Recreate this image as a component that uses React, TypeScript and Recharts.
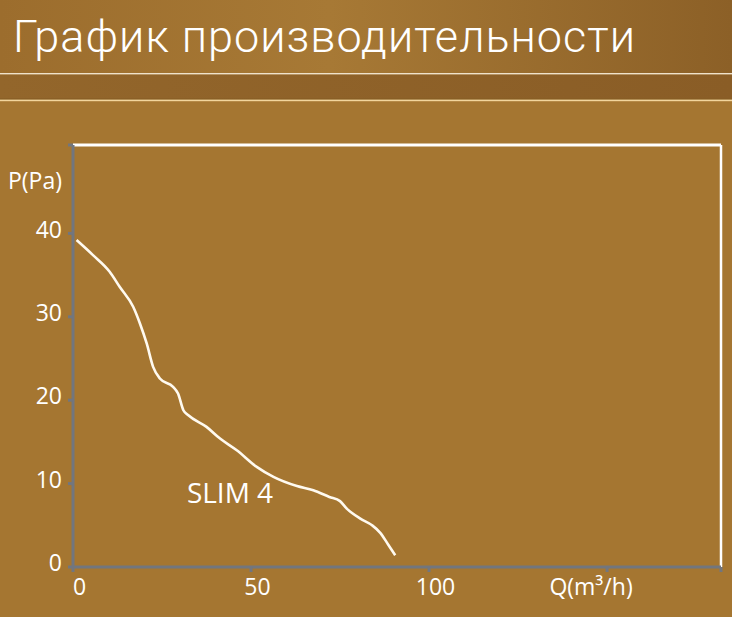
import { LineChart, Line, XAxis, YAxis, ReferenceLine, ReferenceDot } from "recharts";

// SLIM 4 performance curve
const flow = [1, 5.6, 10.3, 13.1, 16.9, 18.8, 20.7, 22.5, 24.4, 28.1, 29.5, 31, 32.4, 37.5, 41.3, 46, 51.6, 56.3, 62.9, 67.5, 72, 75, 76.9, 80.7, 84, 86.3, 88.5, 90.5];
const pressure = [39.2, 37.4, 35.4, 33.6, 31.2, 29.2, 26.8, 24, 22.6, 21.6, 20.8, 18.8, 18.2, 16.8, 15.4, 14, 12, 10.8, 9.7, 9.2, 8.4, 7.9, 7, 5.8, 5, 4.1, 2.7, 1.4];

const yTicks = [0, 10, 20, 30, 40, 45.8, 50.6];
const yTickLabels = ["0", "10", "20", "30", "40", "P(Pa)", ""];
const xTicks = [0, 50, 100, 150, 182];
const xTickLabels = ["0", "50", "100", "Q(m³/h)", ""];

const curveLabel = "SLIM 4";
const title = "График производительности";

const data = flow.map((q, i) => ({ q, p: pressure[i] }));

const AXIS_GRAY = "#72767e";
const FONT = "'Open Sans', 'Noto Sans', sans-serif";

// eslint-disable-next-line @typescript-eslint/no-explicit-any
function YTick({ x, y, payload }: any) {
  const label = yTickLabels[yTicks.indexOf(payload.value)] ?? "";
  const isName = label === "P(Pa)";
  return (
    <g>
      {!isName && (
        <line x1={x + 6} x2={x + 11} y1={y} y2={y} stroke={AXIS_GRAY} strokeWidth={3} />
      )}
      <text x={x} y={y - 4} dy="0.36em" textAnchor="end" fill="#fff" fontSize={23} fontFamily={FONT}>
        {label}
      </text>
    </g>
  );
}

// eslint-disable-next-line @typescript-eslint/no-explicit-any
function XTick({ x, y, payload }: any) {
  const label = xTickLabels[xTicks.indexOf(payload.value)] ?? "";
  const shift = label.startsWith("Q") ? -16 : 6.5;
  return (
    <g>
      <line x1={x} x2={x} y1={y - 11} y2={y - 6} stroke={AXIS_GRAY} strokeWidth={3} />
      <text x={x + shift} y={y} dy="0.72em" textAnchor="middle" fill="#fff" fontSize={23} fontFamily={FONT}>
        {label}
      </text>
    </g>
  );
}

export default function App() {
  return (
    <div style={{ position: "fixed", left: 0, top: 0, width: 732, height: 617, overflow: "hidden" }}>
      <svg width={732} height={617} style={{ position: "absolute", left: 0, top: 0 }}>
        <defs>
          <linearGradient id="topBand" x1="0" y1="0" x2="1" y2="0">
            <stop offset="0" stopColor="#9c6d2d" />
            <stop offset="0.45" stopColor="#a77935" />
            <stop offset="1" stopColor="#8c6027" />
          </linearGradient>
          <linearGradient id="midBand" x1="0" y1="0" x2="1" y2="0">
            <stop offset="0" stopColor="#93662b" />
            <stop offset="1" stopColor="#8a5d26" />
          </linearGradient>
        </defs>
        <rect x={0} y={0} width={732} height={617} fill="#a57631" />
        <rect x={0} y={0} width={732} height={73} fill="url(#topBand)" />
        <rect x={0} y={73} width={732} height={1.6} fill="#efe2cc" />
        <rect x={0} y={74.6} width={732} height={24} fill="url(#midBand)" />
        <rect x={0} y={98.6} width={732} height={1} fill="#76501e" />
        <rect x={0} y={99.6} width={732} height={1.6} fill="#f2d59c" />
        <text
          x={13}
          y={52}
          fill="#fff"
          fontSize={45}
          fontWeight={300}
          letterSpacing={1}
          fontFamily="Roboto, 'Open Sans', sans-serif"
        >
          {title}
        </text>
      </svg>
      <div style={{ position: "absolute", left: 0, top: 0 }}>
        <LineChart width={732} height={617} data={data} margin={{ top: 145, right: 11, bottom: 0, left: 0 }}>
          <XAxis
            dataKey="q"
            type="number"
            domain={[0, 182]}
            ticks={xTicks}
            interval={0}
            allowDataOverflow
            height={50}
            axisLine={{ stroke: AXIS_GRAY, strokeWidth: 3 }}
            tickLine={false}
            tickSize={4}
            tickMargin={7}
            tick={<XTick />}
          />
          <YAxis
            dataKey="p"
            type="number"
            domain={[0, 50.6]}
            ticks={yTicks}
            interval={0}
            allowDataOverflow
            width={73}
            axisLine={{ stroke: AXIS_GRAY, strokeWidth: 3 }}
            tickLine={false}
            tickSize={4}
            tickMargin={7}
            tick={<YTick />}
          />
          <ReferenceLine y={50.6} stroke="#fff" strokeWidth={3} segment={[{ x: 1, y: 50.6 }, { x: 182, y: 50.6 }]} />
          <ReferenceLine x={182} stroke="#fff" strokeWidth={2.5} segment={[{ x: 182, y: 0.3 }, { x: 182, y: 50.6 }]} />
          <ReferenceDot
            x={44.1}
            y={8.9}
            r={0}
            fill="none"
            stroke="none"
            label={{ value: curveLabel, position: "center", fill: "#fff", fontSize: 28, fontFamily: FONT }}
          />
          <Line
            type="monotone"
            dataKey="p"
            stroke="#fffaf0"
            strokeWidth={2.6}
            dot={false}
            activeDot={false}
            isAnimationActive={false}
          />
        </LineChart>
      </div>
    </div>
  );
}
